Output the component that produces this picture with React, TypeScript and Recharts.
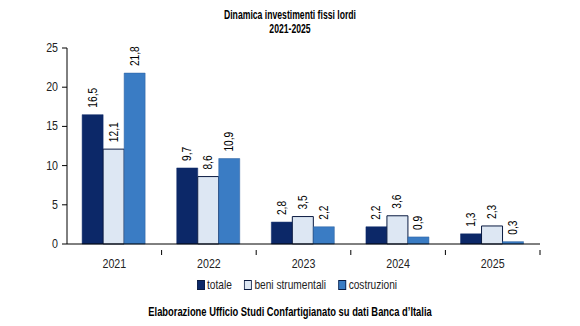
import { BarChart, Bar, XAxis, YAxis, LabelList } from "recharts";

const years = ["2021", "2022", "2023", "2024", "2025"];
const totale = [16.5, 9.7, 2.8, 2.2, 1.3];
const beniStrumentali = [12.1, 8.6, 3.5, 3.6, 2.3];
const costruzioni = [21.8, 10.9, 2.2, 0.9, 0.3];
const yTicks = [0, 5, 10, 15, 20, 25];

const data = years.map((year, i) => ({
  year,
  totale: totale[i],
  beni: beniStrumentali[i],
  costruzioni: costruzioni[i],
}));

const W = 580;
const H = 326;
const margin = { top: 48, right: 40, bottom: 62, left: 37 };
const axisWidth = 30;
const halfBand = (W - margin.left - margin.right - axisWidth) / years.length / 2;

const FONT = "'Liberation Sans', Arial, sans-serif";
const NAVY = "#0c2868";
const LIGHT = "#dde7f3";
const BLUE = "#3a7cc4";

const fmt = (v: number) => v.toFixed(1).replace(".", ",");

// condensed svg text (Arial Narrow look)
const Narrow = ({ x, y, sx = 0.8, rotate = 0, anchor = "middle", size = 12, fill = "#222", children }: any) => (
  <text
    transform={`translate(${x} ${y}) rotate(${rotate}) scale(${sx} 1)`}
    textAnchor={anchor}
    fontFamily={FONT}
    fontSize={size}
    fill={fill}
  >
    {children}
  </text>
);

const RotLabel = (props: any) => {
  const { x, y, width, value } = props;
  return (
    <Narrow x={x + width / 2 + 4} y={y - 7} rotate={-90} anchor="start" sx={0.85} size={12} fill="#000">
      {fmt(value)}
    </Narrow>
  );
};

const YearTick = (props: any) => {
  const { x, y, payload } = props;
  return (
    <g>
      <line x1={x + halfBand} x2={x + halfBand} y1={y - 2} y2={y + 3} stroke="#000" />
      <Narrow x={x} y={y + 16} size={13} sx={0.82}>
        {payload.value}
      </Narrow>
    </g>
  );
};

const ValueTick = (props: any) => {
  const { x, y, payload } = props;
  return (
    <Narrow x={x - 2} y={y + 4} anchor="end" size={13} sx={0.82}>
      {payload.value}
    </Narrow>
  );
};

const legendItems = [
  { name: "totale", color: NAVY },
  { name: "beni strumentali", color: LIGHT },
  { name: "costruzioni", color: BLUE },
];

export default function App() {
  return (
    <div style={{ position: "absolute", left: 0, top: 0, width: W, height: H, background: "#fff", fontFamily: FONT }}>
      <div style={{ position: "absolute", top: 8, width: W, textAlign: "center", fontSize: 12, fontWeight: "bold", lineHeight: "14px", transform: "scaleX(0.72)", transformOrigin: "290px 0" }}>
        <div>Dinamica investimenti fissi lordi</div>
        <div>2021-2025</div>
      </div>
      <BarChart width={W} height={H} data={data} margin={margin} barGap={0} barCategoryGap="16%">
        <XAxis
          dataKey="year"
          tickLine={false}
          axisLine={{ stroke: "#000" }}
          tick={<YearTick />}
          height={20}
          interval={0}
        />
        <YAxis
          domain={[0, 25]}
          ticks={yTicks}
          width={axisWidth}
          axisLine={{ stroke: "#000" }}
          tickLine={{ stroke: "#000" }}
          tickSize={5}
          tick={<ValueTick />}
        />
        <Bar dataKey="totale" fill={NAVY} stroke={NAVY} strokeWidth={0.5} isAnimationActive={false}>
          <LabelList dataKey="totale" content={<RotLabel />} />
        </Bar>
        <Bar dataKey="beni" fill={LIGHT} stroke="#0a1a40" strokeWidth={1} isAnimationActive={false}>
          <LabelList dataKey="beni" content={<RotLabel />} />
        </Bar>
        <Bar dataKey="costruzioni" fill={BLUE} stroke="#2a5f9e" strokeWidth={0.5} isAnimationActive={false}>
          <LabelList dataKey="costruzioni" content={<RotLabel />} />
        </Bar>
      </BarChart>
      <div style={{ position: "absolute", top: 277, width: W, display: "flex", justifyContent: "center", gap: 16, fontSize: 13, color: "#222", paddingLeft: 14, boxSizing: "border-box", transform: "scaleX(0.78)", transformOrigin: "297px 0" }}>
        {legendItems.map((it) => (
          <div key={it.name} style={{ display: "flex", alignItems: "center" }}>
            <span style={{ display: "inline-block", width: 8, height: 8, background: it.color, border: "1px solid #0a1a40", marginRight: 3 }} />
            <span>{it.name}</span>
          </div>
        ))}
      </div>
      <div style={{ position: "absolute", top: 305, width: W, textAlign: "center", fontSize: 12, fontWeight: "bold", transform: "scaleX(0.78)", transformOrigin: "290px 0" }}>
        Elaborazione Ufficio Studi Confartigianato su dati Banca d’Italia
      </div>
    </div>
  );
}
